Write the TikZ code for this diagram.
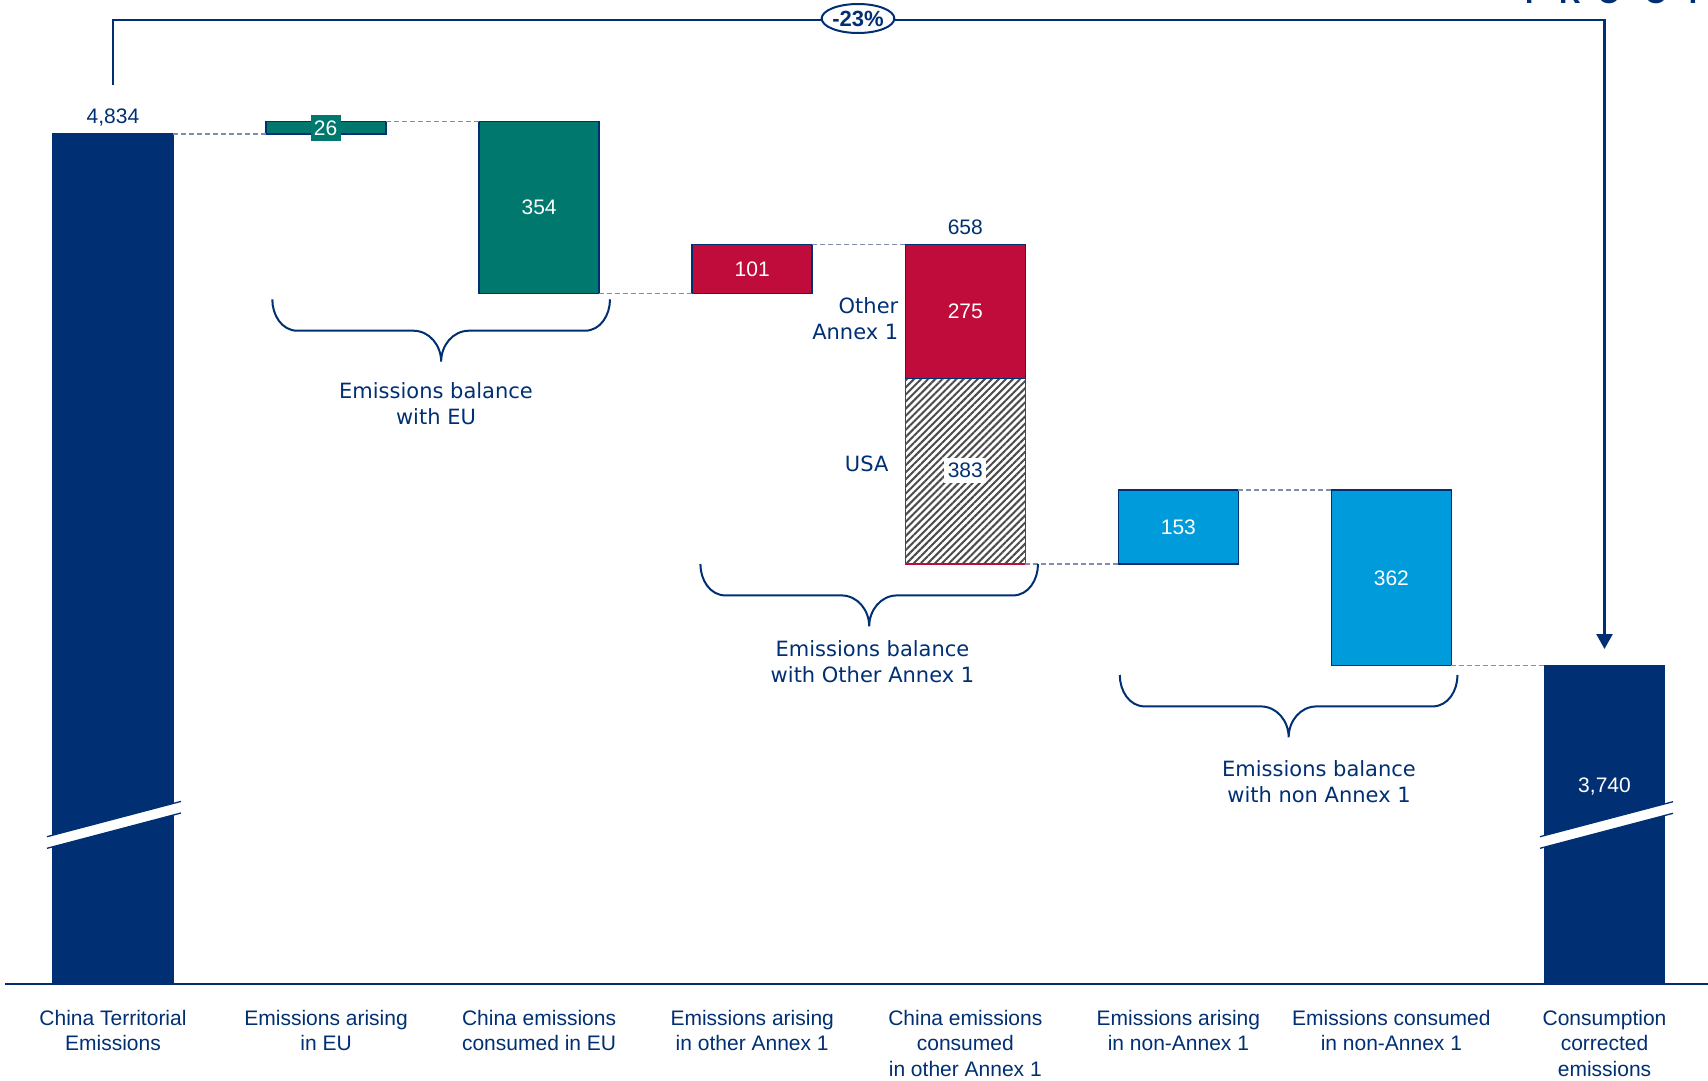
\documentclass[tikz,border=0pt]{standalone}
\usepackage{fontspec}
\setmainfont{Liberation Sans}
\newfontfamily\verd{DejaVu Sans}
\usetikzlibrary{arrows.meta,patterns.meta,shapes.geometric}
\definecolor{navy}{RGB}{0,48,115}
\definecolor{tealc}{RGB}{0,120,110}
\definecolor{crim}{RGB}{192,12,58}
\definecolor{lblue}{RGB}{0,155,218}
\definecolor{dashc}{RGB}{125,140,175}
\newcommand\mybracepath[3]{%
  \pgfmathsetmacro\bxm{(#1+#2)/2}%
  \draw[braceline] (#1,#3) to[out=-90,in=180] (#1+25,#3+31.4) -- (\bxm-28,#3+31.4)
    to[out=0,in=90] (\bxm,#3+62.4) to[out=90,in=180] (\bxm+28,#3+31.4)
    -- (#2-25,#3+31.4) to[out=0,in=-90] (#2,#3);}
\begin{document}
\begin{tikzpicture}[x=1pt,y=-1pt,
  bar/.style={draw=navy, line width=1.5pt, inner sep=0pt, outer sep=0pt, anchor=north west, minimum width=120pt},
  val/.style={font=\fontsize{21}{26}\selectfont, inner sep=0pt},
  axl/.style={font=\fontsize{21}{25.5}\selectfont, text=navy, align=center, anchor=north, inner sep=0pt},
  bl/.style={font=\verd\fontsize{21}{26}\selectfont, text=navy, align=center, inner sep=0pt},
  conn/.style={draw=dashc, line width=1.2pt, dash pattern=on 5pt off 3pt},
  braceline/.style={draw=navy, line width=2pt}]
\useasboundingbox (0,0) rectangle (1708,1081);
\fill[white] (0,0) rectangle (1708,1081);

% PROOF (cut off at top, as in the reference)
\foreach \xx/\ch [count=\i] in {1535/P,1570/R,1609/O,1656/O,1698/F}
  \node[anchor=base, font=\bfseries\fontsize{30}{30}\selectfont, text=navy, inner sep=0pt] (p\i) at (\xx,3.5) {\ch};

% bars
\node[bar, fill=navy, minimum height=849.6pt] (b1) at (53,134) {};
\node[bar, fill=tealc, minimum height=12.5pt] (b2) at (266.1,121.5) {};
\node[bar, fill=tealc, minimum height=172pt] (b3) at (479.1,121.5) {};
\node[bar, fill=crim, minimum height=49pt] (b4) at (692.2,244.5) {};
\node[bar, draw=crim, pattern={Lines[angle=45,distance=5pt,line width=2pt]}, pattern color=black!70, minimum height=185.5pt] (b5b) at (905.3,378.5) {};
\node[bar, fill=crim, minimum height=134pt] (b5a) at (905.3,244.5) {};
\node[bar, fill=lblue, minimum height=74pt] (b6) at (1118.4,490) {};
\node[bar, fill=lblue, minimum height=175.6pt] (b7) at (1331.4,490) {};
\node[bar, fill=navy, minimum height=318pt] (b8) at (1544.5,665.6) {};

% break marks
\fill[white] (47,836.7) -- (181,801.4) -- (181,813) -- (47,848.3) -- cycle;
\draw[navy, line width=1.3pt] (47,836.7) -- (181,801.4) (47,848.3) -- (181,813);
\fill[white] (1540,836.7) -- (1673,801.7) -- (1673,813.3) -- (1540,848.3) -- cycle;
\draw[navy, line width=1.3pt] (1540,836.7) -- (1673,801.7) (1540,848.3) -- (1673,813.3);

% axis
\draw[navy, line width=2pt] (5,983.6) -- (1708,983.6);

% dashed connectors
\draw[conn] (b1.north east) -- (b2.south west);
\draw[conn] (b2.north east) -- (b3.north west);
\draw[conn] (b3.south east) -- (b4.south west);
\draw[conn] (b4.north east) -- (b5a.north west);
\draw[conn] (b5b.south east) -- (b6.south west);
\draw[conn] (b6.north east) -- (b7.north west);
\draw[conn] (b7.south east) -- (b8.north west);

% values
\node[val, text=navy] (v1) at (113,118) {4,834};
\node[val, text=white, fill=tealc, minimum width=30pt, minimum height=26pt] (v2) at (325.5,128) {26};
\node[val, text=white] (v3) at (b3) {354};
\node[val, text=white] (v4) at (b4) {101};
\node[val, text=navy] (v5) at (965.3,227.5) {658};
\node[val, text=white] (v5a) at (b5a) {275};
\node[val, text=navy, fill=white, minimum width=42pt, minimum height=25pt] (v5b) at (965.3,470.5) {383};
\node[val, text=white] (v6) at (b6) {153};
\node[val, text=white] (v7) at (b7) {362};
\node[val, text=white] (v8) at (1604.5,787) {3,740};

% side labels
\node[bl, align=right, anchor=north east] (oa) at (898.5,297.5) {Other\hspace{6.5pt}\\Annex 1};
\node[bl] (usa) at (866.7,464) {USA};

% braces
\mybracepath{272.3}{610}{299.3}
\mybracepath{700.4}{1038}{564}
\mybracepath{1119.8}{1457.5}{675}
\node[bl] (g1) at (436,404) {Emissions balance\\with EU};
\node[bl] (g2) at (872.5,662) {Emissions balance\\with Other Annex 1};
\node[bl] (g3) at (1319,781.5) {Emissions balance\\with non Annex 1};

% axis labels
\node[axl] (l1) at (113,1010) {China Territorial\\Emissions};
\node[axl] (l2) at (326.1,1010) {Emissions arising\\in EU};
\node[axl] (l3) at (539.1,1010) {China emissions\\consumed in EU};
\node[axl] (l4) at (752.2,1010) {Emissions arising\\in other Annex 1};
\node[axl] (l5) at (965.3,1010) {China emissions\\consumed\\in other Annex 1};
\node[axl] (l6) at (1178.4,1010) {Emissions arising\\in non-Annex 1};
\node[axl] (l7) at (1391.4,1010) {Emissions consumed\\in non-Annex 1};
\node[axl] (l8) at (1604.5,1010) {Consumption\\corrected\\emissions};

% top bracket with arrow
\coordinate (s) at (113,85);
\coordinate (t) at (1604.5,649);
\draw[navy, line width=2.5pt, -{Triangle[length=15pt,width=16pt]}] (s) -- (113,20) -- (1604.5,20) -- (t);
\node[draw=navy, line width=2pt, fill=white, ellipse, minimum width=72pt, minimum height=29pt, inner sep=0pt, font=\bfseries\fontsize{22}{26}\selectfont, text=navy] (pct) at (858,18.5) {-23\%};
\end{tikzpicture}
\end{document}
